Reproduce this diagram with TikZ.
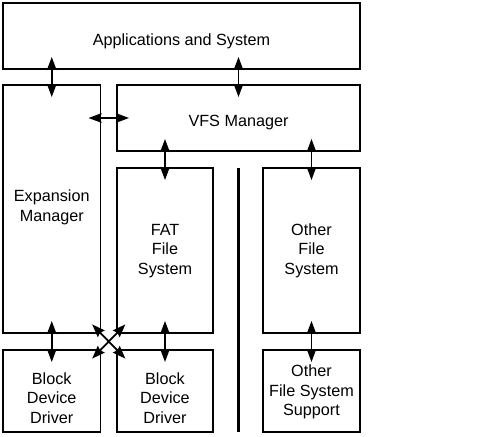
\documentclass[tikz,border=0pt]{standalone}
\usepackage{fontspec}
\setmainfont{Liberation Sans}
\usetikzlibrary{arrows.meta}
\begin{document}
\begin{tikzpicture}[x=1pt,y=-1pt,
  box/.style={draw,line width=1.2pt,inner sep=0pt,outer sep=0pt},
  lbl/.style={inner sep=0pt,outer sep=0pt,anchor=north,align=center,
    font=\fontsize{16.2}{19.6}\selectfont},
  arr/.style={line width=1.8pt,{Stealth[length=13pt,width=9.5pt,inset=1.5pt]}-{Stealth[length=13pt,width=9.5pt,inset=1.5pt]},
    shorten <=-12pt,shorten >=-12pt},
  sepline/.style={line width=3pt}]
\useasboundingbox (0,0) rectangle (480,437);
% boxes
\node[box,minimum width=357pt,minimum height=66pt] (app) at (181.5,36) {};
\node[box,minimum width=97.5pt,minimum height=248pt] (exp) at (51.75,209) {};
\node[box,minimum width=243pt,minimum height=66pt] (vfs) at (238.5,118) {};
\node[box,minimum width=96pt,minimum height=165pt] (fat) at (165,250.5) {};
\node[box,minimum width=97pt,minimum height=165pt] (ofs) at (311.5,250.5) {};
\node[box,minimum width=97.5pt,minimum height=82pt] (bdd1) at (51.75,391) {};
\node[box,minimum width=96pt,minimum height=82pt] (bdd2) at (165,391) {};
\node[box,minimum width=97pt,minimum height=82pt] (ofss) at (311.5,391) {};
% labels
\node[lbl] (tapp) at (181.5,33.3) {Applications and System};
\node[lbl] (tvfs) at (238.5,115) {VFS Manager};
\node[lbl] (texp) at (51.75,190) {Expansion\\Manager};
\node[lbl] (tfat) at (165,224) {FAT\\File\\System};
\node[lbl] (tofs) at (311.5,223.3) {Other\\File\\System};
\node[lbl] (tbdd1) at (51.75,372.5) {Block\\Device\\Driver};
\node[lbl] (tbdd2) at (165,372.5) {Block\\Device\\Driver};
\node[lbl] (tofss) at (311.5,365) {Other\\File System\\Support};
% arrows
\draw[arr] (app.south -| exp.north) -- (exp.north);
\draw[arr] (app.south -| vfs.north) -- (vfs.north);
\draw[arr] (exp.east |- vfs.west) -- (vfs.west);
\draw[arr] (vfs.south -| fat.north) -- (fat.north);
\draw[arr] (vfs.south -| ofs.north) -- (ofs.north);
\draw[arr] (exp.south) -- (bdd1.north);
\draw[arr] (fat.south) -- (bdd2.north);
\draw[arr] (ofs.south) -- (ofss.north);
\draw[arr] (bdd1.north east) -- (fat.south west);
\draw[arr] (exp.south east) -- (bdd2.north west);
% separator
\draw[sepline] (238,168) -- (238,432);
\end{tikzpicture}
\end{document}
